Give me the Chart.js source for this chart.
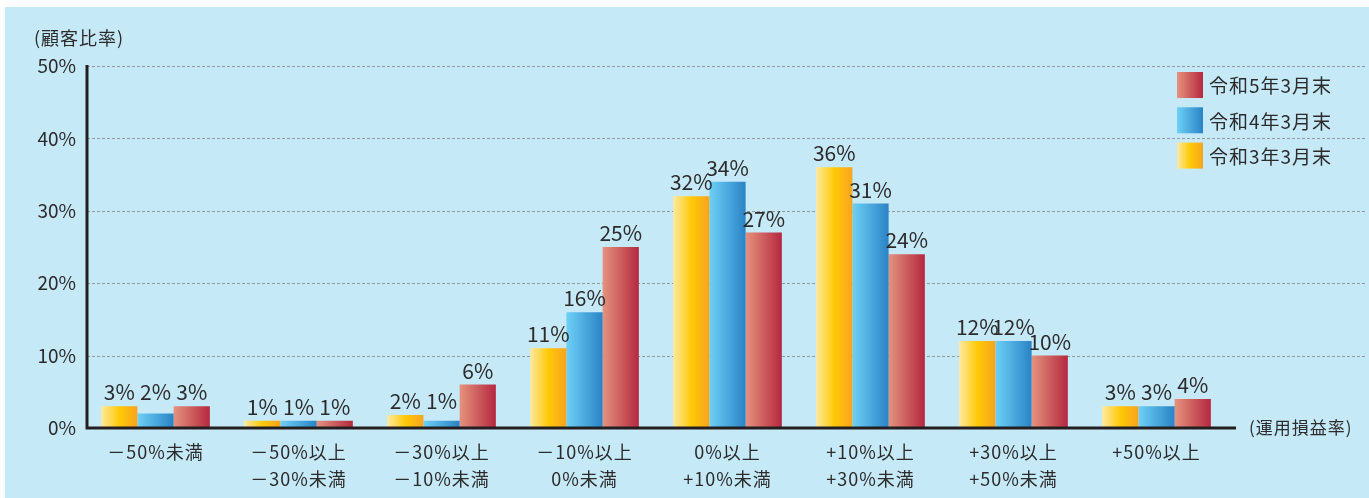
<!DOCTYPE html>
<html>
<head>
<meta charset="utf-8">
<script src="https://cdn.jsdelivr.net/npm/chart.js@4/dist/chart.umd.min.js"></script>
<style>
  html, body { margin: 0; padding: 0; background: #fff; }
  #wrap { width: 1369px; height: 498px; position: relative; }
</style>
</head>
<body>
<div id="wrap"><canvas id="c" width="1369" height="498"></canvas></div>
<script>
// categories (two-line labels)
const categories = [
  ['－50%未満'],
  ['－50%以上', '－30%未満'],
  ['－30%以上', '－10%未満'],
  ['－10%以上', '0%未満'],
  ['0%以上', '+10%未満'],
  ['+10%以上', '+30%未満'],
  ['+30%以上', '+50%未満'],
  ['+50%以上']
];
const seriesNames = ['令和3年3月末', '令和4年3月末', '令和5年3月末'];
const r3 = [3, 1, 1.8, 11, 32, 36, 12, 3];
const r4 = [2, 1, 1, 16, 34, 31, 12, 3];
const r5 = [3, 1, 6, 25, 27, 24, 10, 4];
const yTicks = [0, 10, 20, 30, 40, 50];

const gradStops = [
  [[0, '#fee9a2'], [0.5, '#ffc907'], [1, '#f6a41e']],
  [[0, '#6ed0f6'], [1, '#2a83c5']],
  [[0, '#e4937e'], [1, '#b5283f']]
];

const FONT = '"Noto Sans CJK JP", "Noto Sans", sans-serif';
const CAT_PCT = 0.76;
const TEXT = '#2b2b2b';
const AXIS_X = 87;

function barGradient(ctx, x0, x1, d) {
  const g = ctx.createLinearGradient(x0, 0, x1, 0);
  gradStops[d].forEach(s => g.addColorStop(s[0], s[1]));
  return g;
}

function bgFor(d) {
  return function (context) {
    const chart = context.chart;
    const xs = chart.scales.x;
    if (!chart.chartArea || !xs || context.dataIndex === undefined) return gradStops[d][1][1];
    const step = xs.width / categories.length;
    const bw = step * CAT_PCT / 3;
    const cx = xs.getPixelForValue(context.dataIndex);
    const x0 = cx + (d - 1.5) * bw;
    return barGradient(chart.ctx, x0, x0 + bw, d);
  };
}

const decor = {
  id: 'decor',
  beforeDraw(chart) {
    const c = chart.ctx;
    c.save();
    c.fillStyle = '#fff';
    c.fillRect(0, 0, chart.width, chart.height);
    c.fillStyle = '#c6e9f8';
    c.fillRect(5, 7, chart.width - 5, chart.height - 7);
    // dashed gridlines
    const ys = chart.scales.y;
    c.strokeStyle = '#8e9aa0';
    c.lineWidth = 1;
    c.setLineDash([3, 2]);
    yTicks.forEach(v => {
      if (v === 0) return;
      const y = Math.round(ys.getPixelForValue(v)) + 0.5;
      c.beginPath();
      c.moveTo(AXIS_X, y);
      c.lineTo(chart.width - 4, y);
      c.stroke();
    });
    c.restore();
  },
  afterDatasetsDraw(chart) {
    const c = chart.ctx;
    const ys = chart.scales.y;
    const xs = chart.scales.x;
    const area = chart.chartArea;
    c.save();
    // axes
    c.strokeStyle = '#231f20';
    c.lineWidth = 3;
    c.beginPath();
    c.moveTo(AXIS_X, ys.getPixelForValue(50) - 1);
    c.lineTo(AXIS_X, ys.getPixelForValue(0));
    c.lineTo(area.right + 8, ys.getPixelForValue(0));
    c.stroke();

    // value labels
    c.fillStyle = TEXT;
    c.font = '21px ' + FONT;
    c.textAlign = 'center';
    c.textBaseline = 'alphabetic';
    chart.data.datasets.forEach((ds, d) => {
      const meta = chart.getDatasetMeta(d);
      meta.data.forEach((bar, i) => {
        let anchor = ds.data[i];
        if (d > 0) {
          const prev = chart.data.datasets[d - 1].data[i];
          if (prev > anchor && prev - anchor <= 1) anchor = prev;
        }
        const y = ys.getPixelForValue(anchor) - 6;
        c.fillText(Math.round(ds.data[i]) + '%', bar.x, y);
      });
    });

    // category labels
    c.font = '18px ' + FONT;
    c.letterSpacing = '1px';
    c.textBaseline = 'middle';
    categories.forEach((lines, i) => {
      const x = xs.getPixelForValue(i);
      lines.forEach((t, k) => c.fillText(t, x, 452 + k * 27));
    });

    // axis titles
    c.font = '18px ' + FONT;
    c.textAlign = 'left';
    c.fillText('(顧客比率)', 34, 38);
    c.font = '17px ' + FONT;
    c.fillText('(運用損益率)', 1249, ys.getPixelForValue(0));

    // legend (reverse order)
    c.font = '19px ' + FONT;
    const items = [2, 1, 0];
    items.forEach((d, k) => {
      const yc = 85 + k * 35.3;
      const x0 = 1177, w = 26, h = 26;
      c.fillStyle = barGradient(c, x0, x0 + w, d);
      c.fillRect(x0, yc - h / 2, w, h);
      c.fillStyle = TEXT;
      c.fillText(seriesNames[d], 1209, yc + 1);
    });
    c.restore();
  }
};

new Chart(document.getElementById('c'), {
  type: 'bar',
  data: {
    labels: categories,
    datasets: [
      { label: seriesNames[0], data: r3, backgroundColor: bgFor(0) },
      { label: seriesNames[1], data: r4, backgroundColor: bgFor(1) },
      { label: seriesNames[2], data: r5, backgroundColor: bgFor(2) }
    ]
  },
  options: {
    responsive: false,
    animation: false,
    devicePixelRatio: 1,
    categoryPercentage: CAT_PCT,
    barPercentage: 1.0,
    layout: { padding: { top: 66, right: 141, left: 0, bottom: 0 } },
    plugins: { legend: { display: false }, tooltip: { enabled: false } },
    scales: {
      x: {
        grid: { display: false },
        border: { display: false },
        ticks: { display: false },
        afterFit(s) { s.height = 70; }
      },
      y: {
        min: 0, max: 50,
        grid: { display: false, drawTicks: false },
        border: { display: false },
        ticks: {
          stepSize: 10,
          color: TEXT,
          padding: 8,
          font: { family: FONT, size: 19 },
          callback: v => v + '%'
        },
        afterFit(s) { s.width = 84; }
      }
    }
  },
  plugins: [decor]
});
</script>
</body>
</html>
